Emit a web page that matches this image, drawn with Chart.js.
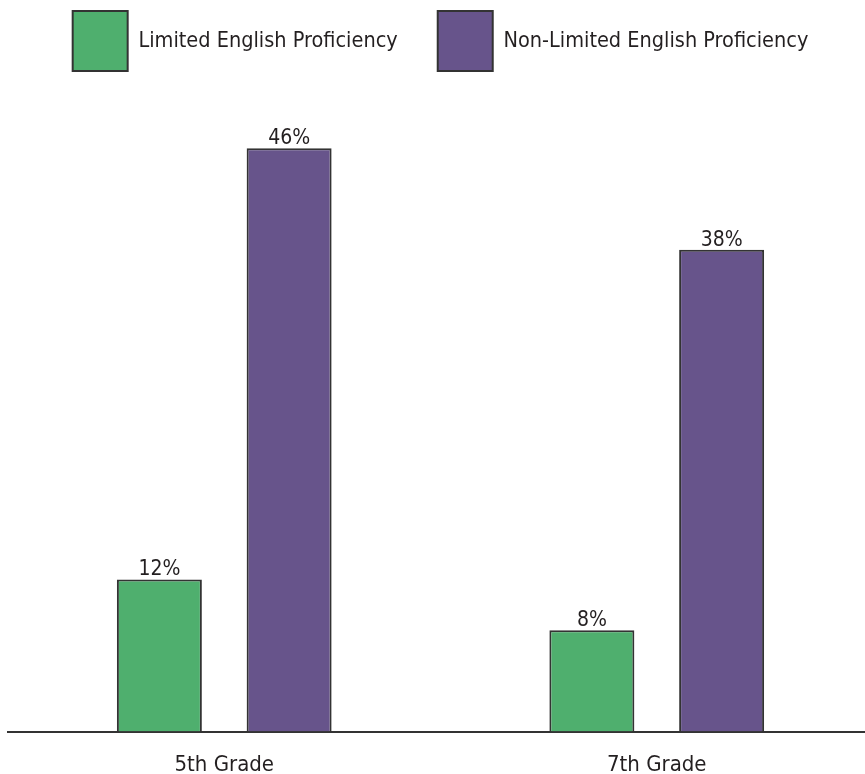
<!DOCTYPE html>
<html>
<head>
<meta charset="utf-8">
<script src="https://cdn.jsdelivr.net/npm/chart.js@4.4.1/dist/chart.umd.min.js"></script>
<style>
    html, body { margin: 0; padding: 0; background: #fff; overflow: hidden; }
    #wrap { position: relative; width: 873px; height: 774px; }
</style>
</head>
<body>
<div id="wrap"><canvas id="gradeChart" width="873" height="774"></canvas></div>
<script>
// chart data
const grades = ['5th Grade', '7th Grade'];
const limitedEnglish = [12, 8];
const nonLimitedEnglish = [46, 38];
const seriesNames = ['Limited English Proficiency', 'Non-Limited English Proficiency'];

const FONT = '"Liberation Sans Narrow", "DejaVu Sans Condensed", "Liberation Sans", sans-serif';
const TEXT = '#231f20';

// draws the % value above each bar
const valueLabels = {
    id: 'valueLabels',
    afterDatasetsDraw(chart) {
        const ctx = chart.ctx;
        ctx.save();
        ctx.font = '21px ' + FONT;
        ctx.fillStyle = TEXT;
        ctx.textAlign = 'center';
        ctx.textBaseline = 'alphabetic';
        chart.data.datasets.forEach((ds, i) => {
            chart.getDatasetMeta(i).data.forEach((bar, j) => {
                ctx.fillText(ds.data[j] + '%', bar.x, bar.y - 4);
            });
        });
        ctx.restore();
    }
};

const ctx = document.getElementById('gradeChart').getContext('2d');
const gradeChart = new Chart(ctx, {
    type: 'bar',
    data: {
        labels: grades,
        datasets: [{
            label: seriesNames[0],
            data: limitedEnglish,
            backgroundColor: '#4faf6e',
            borderColor: '#333333',
            borderWidth: 2
        }, {
            label: seriesNames[1],
            data: nonLimitedEnglish,
            backgroundColor: '#67548b',
            borderColor: '#333333',
            borderWidth: 2
        }]
    },
    options: {
        responsive: false,
        animation: false,
        categoryPercentage: 0.6,
        barPercentage: 0.655,
        layout: {
            padding: { top: -29, left: 8, right: 0, bottom: -24 }
        },
        plugins: {
            legend: {
                position: 'top',
                labels: {
                    boxWidth: 55,
                    boxHeight: 60,
                    padding: 40,
                    color: TEXT,
                    font: { family: FONT, size: 21.5 }
                }
            },
            tooltip: { enabled: false }
        },
        scales: {
            x: {
                grid: { display: false, drawTicks: false },
                border: { display: true, color: '#333333', width: 2 },
                ticks: {
                    padding: 20,
                    color: TEXT,
                    font: { family: FONT, size: 22 }
                }
            },
            y: {
                display: false,
                min: 0,
                max: 51.3
            }
        }
    },
    plugins: [valueLabels]
});
</script>
</body>
</html>
